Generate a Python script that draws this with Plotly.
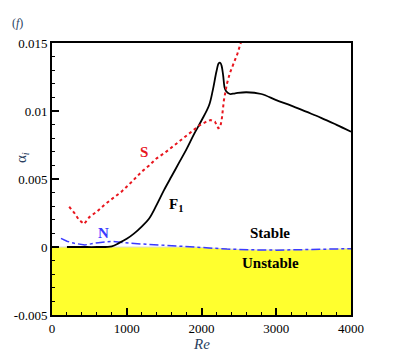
import numpy as np
import plotly.graph_objects as go

# F1 mode (black solid)
re_f1 = [200, 400, 600, 800, 900, 1000, 1100, 1200, 1300, 1400, 1500, 1600, 1700, 1800,
         1900, 2000, 2100, 2150, 2200, 2230, 2250, 2270, 2290, 2310, 2330, 2380, 2450,
         2600, 2800, 3000, 3200, 3400, 3600, 3800, 4000]
ai_f1 = [0, 0, 0, 0.00005, 0.0003, 0.0006, 0.0010, 0.0015, 0.0021, 0.0031, 0.0042, 0.0052,
         0.0062, 0.0072, 0.0083, 0.0093, 0.0104, 0.0115, 0.0129, 0.0135, 0.01355, 0.0133,
         0.0126, 0.0117, 0.01145, 0.01125, 0.0113, 0.01138, 0.01125, 0.0108, 0.0104,
         0.00995, 0.0095, 0.0090, 0.00848]

# S mode (red dotted)
re_s = [230, 300, 360, 430, 500, 600, 700, 800, 930, 1050, 1200, 1300, 1400, 1510, 1620,
        1760, 1880, 1980, 2060, 2120, 2180, 2225, 2250, 2270, 2300, 2340, 2380, 2430,
        2480, 2530]
ai_s = [0.00296, 0.0025, 0.0020, 0.00169, 0.0022, 0.0026, 0.0031, 0.0035, 0.00407, 0.0047,
        0.00554, 0.0060, 0.00652, 0.00693, 0.0074, 0.0080, 0.0085, 0.00897, 0.0092, 0.00934,
        0.00921, 0.00873, 0.0088, 0.00934, 0.0108, 0.0120, 0.0128, 0.0135, 0.0142, 0.0151]

# N mode (blue dash-dot)
re_n = [120, 200, 300, 440, 620, 800, 1060, 1300, 1510, 1700, 1890, 2100, 2340, 2550,
        2780, 3000, 3230, 3450, 3680, 3850, 4000]
ai_n = [0.00064, 0.00042, 0.00027, 0.00015, 0.00032, 0.00042, 0.00027, 0.0002, 0.00015,
        0.00008, 0.00002, -0.00007, -0.00015, -0.0002, -0.00022, -0.00023, -0.00022,
        -0.0002, -0.00017, -0.00014, -0.00012]

x_range = [0, 4000]
y_range = [-0.005, 0.015]
y_ticks = [-0.005, 0, 0.005, 0.01, 0.015]
y_ticktext = ["-0.005", "0", "0.005", "0.01", "0.015"]

serif = "Liberation Serif"

fig = go.Figure()

# unstable region (yellow), bounded above by min(N, 0)
re_fill = np.concatenate([[x_range[0]], re_n])
top_fill = np.minimum(np.concatenate([[0], ai_n]), 0)
fig.add_trace(go.Scatter(x=re_fill, y=np.full(len(re_fill), y_range[0]), mode="lines",
                         line=dict(width=0), showlegend=False, hoverinfo="skip"))
fig.add_trace(go.Scatter(x=re_fill, y=top_fill, mode="lines", fill="tonexty",
                         fillcolor="#ffff2e", line=dict(color="#d8d8d8", width=1),
                         showlegend=False, hoverinfo="skip"))

fig.add_trace(go.Scatter(x=re_n, y=ai_n, mode="lines",
                         line=dict(color="#3a3aff", width=1.5, dash="dashdot"), showlegend=False))
fig.add_trace(go.Scatter(x=re_f1, y=ai_f1, mode="lines", line_shape="spline",
                         line=dict(color="black", width=1.8), showlegend=False))
fig.add_trace(go.Scatter(x=re_s, y=ai_s, mode="lines",
                         line=dict(color="#e8161e", width=2, dash="dot"), showlegend=False))

fig.add_annotation(x=1231, y=0.0070, text="<b>S</b>", showarrow=False,
                   font=dict(family=serif, size=15, color="#e8161e"))
fig.add_annotation(x=1660, y=0.0031, text="<b>F<sub>1</sub></b>", showarrow=False,
                   font=dict(family=serif, size=15, color="black"))
fig.add_annotation(x=690, y=0.0010, text="<b>N</b>", showarrow=False,
                   font=dict(family=serif, size=15, color="#3a3aff"))
fig.add_annotation(x=2917, y=0.0010, text="<b>Stable</b>", showarrow=False,
                   font=dict(family=serif, size=15, color="black"))
fig.add_annotation(x=2917, y=-0.0012, text="<b>Unstable</b>", showarrow=False,
                   font=dict(family=serif, size=15, color="black"))

# axis titles and panel label
fig.add_annotation(xref="paper", yref="paper", x=0.5, y=-0.105,
                   xanchor="center", yanchor="middle",
                   text="<i>Re</i>", showarrow=False, font=dict(family=serif, size=15))
fig.add_annotation(xref="paper", yref="paper", x=-0.101, y=0.58,
                   xanchor="center", yanchor="middle",
                   text="α<sub><i>i</i></sub>", textangle=-90, showarrow=False,
                   font=dict(family=serif, size=15))
fig.add_annotation(xref="paper", yref="paper", x=-0.117, y=1.074,
                   xanchor="center", yanchor="middle",
                   text="(<i>f</i>)", showarrow=False, font=dict(family=serif, size=12))

axis_common = dict(showgrid=False, zeroline=False, showline=True, linecolor="black",
                   linewidth=2, mirror=True, ticks="inside", ticklen=7, tickwidth=1.5,
                   tickcolor="black", automargin=False,
                   tickfont=dict(family=serif, size=13, color="black"))

fig.update_xaxes(range=x_range, dtick=1000, tick0=0,
                 minor=dict(ticks="inside", ticklen=3, dtick=200, tickcolor="black", tickwidth=1),
                 **axis_common)
fig.update_yaxes(range=y_range, tickvals=y_ticks, ticktext=y_ticktext,
                 minor=dict(ticks="inside", ticklen=3, dtick=0.001, tickcolor="black", tickwidth=1),
                 **axis_common)

# page body adds an 8px offset, so the figure is sized to fit inside the window
fig.update_layout(width=391, height=347, margin=dict(l=44, r=48, t=35, b=40),
                  plot_bgcolor="white", paper_bgcolor="white")

fig.write_html("out.html")
